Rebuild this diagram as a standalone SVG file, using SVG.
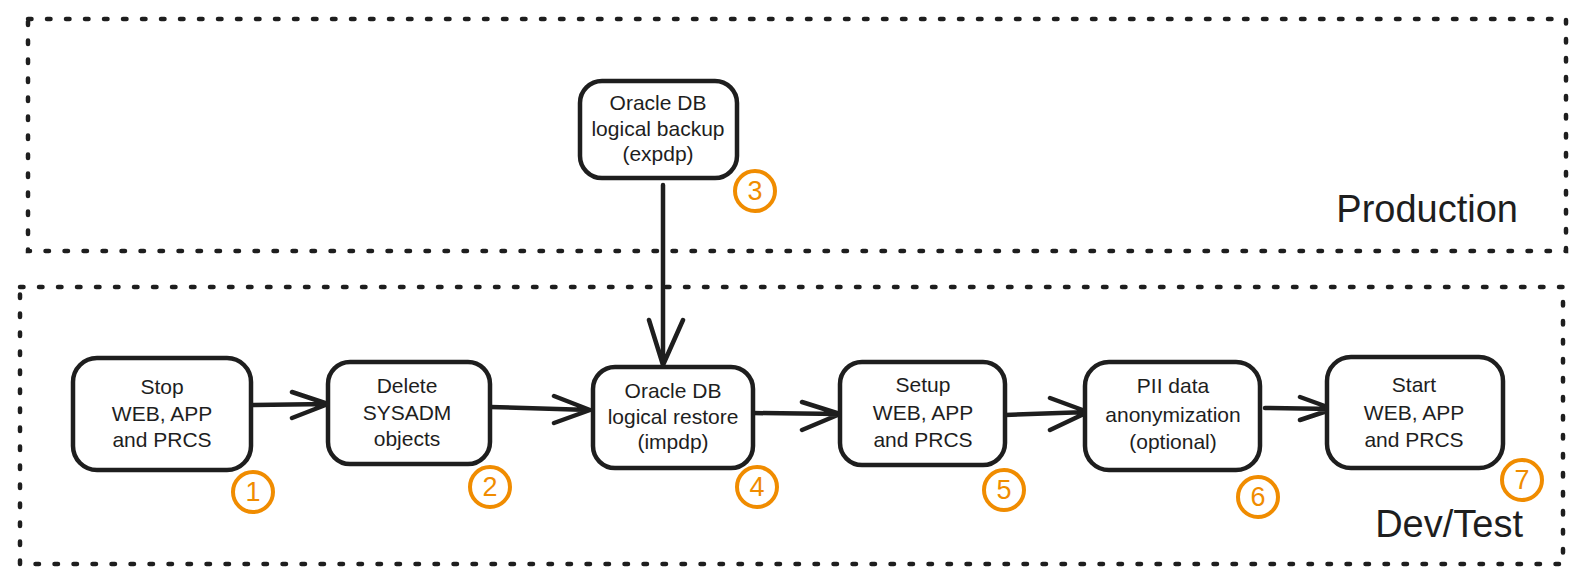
<svg xmlns="http://www.w3.org/2000/svg" width="1587" height="584" viewBox="0 0 1587 584">
<defs>
<style>
.zone{fill:none;stroke:#1e1e1e;stroke-width:4.5;stroke-dasharray:3.5 15.5;stroke-linecap:round}
.box{fill:#ffffff;stroke:#1e1e1e;stroke-width:4.5}
.lbl{font-family:"Liberation Sans","DejaVu Sans",sans-serif;font-size:21px;fill:#1e1e1e;text-anchor:middle}
.title{font-family:"Liberation Sans","DejaVu Sans",sans-serif;font-size:38px;fill:#1e1e1e;text-anchor:end}
.edge{fill:none;stroke:#1e1e1e;stroke-width:4.5;stroke-linecap:round;stroke-linejoin:round}
.badge{fill:none;stroke:#f08c00;stroke-width:4}
.num{font-family:"Liberation Sans","DejaVu Sans",sans-serif;font-size:27px;fill:#f08c00;text-anchor:middle}
</style>
</defs>
<rect width="1587" height="584" fill="#ffffff"/>
<g id="production">
<rect class="zone" x="28" y="19" width="1538" height="232"/>
<text class="title" x="1518" y="222">Production</text>
</g>
<g id="devtest">
<rect class="zone" x="20" y="287" width="1543" height="277"/>
<text class="title" x="1523" y="537">Dev/Test</text>
</g>
<g id="connectors">
<path class="edge" d="M663 185 L663 365 M649 320 L663 365 L683 320"/>
<path class="edge" d="M251 405 L328 404 M292 392 L328 404 L292 418"/>
<path class="edge" d="M490 407 L590 410 M554 396 L590 410 L554 423"/>
<path class="edge" d="M753 413 L840 414 M802 402 L840 414 L802 430"/>
<path class="edge" d="M1005 415 L1088 412 M1050 398 L1088 412 L1050 430"/>
<path class="edge" d="M1265 408 L1333 409 M1300 397 L1333 409 L1300 420"/>
</g>
<g id="node1">
<rect class="box" x="73" y="358" width="178" height="112" rx="24"/>
<text class="lbl" x="162" y="394">Stop</text>
<text class="lbl" x="162" y="421">WEB, APP</text>
<text class="lbl" x="162" y="447">and PRCS</text>
<circle class="badge" cx="253" cy="492" r="20"/>
<text class="num" x="253" y="501">1</text>
</g>
<g id="node2">
<rect class="box" x="328" y="362" width="162" height="102" rx="22"/>
<text class="lbl" x="407" y="393">Delete</text>
<text class="lbl" x="407" y="420">SYSADM</text>
<text class="lbl" x="407" y="446">objects</text>
<circle class="badge" cx="490" cy="487" r="20"/>
<text class="num" x="490" y="496">2</text>
</g>
<g id="node3">
<rect class="box" x="580" y="81" width="157" height="97" rx="22"/>
<text class="lbl" x="658" y="110">Oracle DB</text>
<text class="lbl" x="658" y="136">logical backup</text>
<text class="lbl" x="658" y="161">(expdp)</text>
<circle class="badge" cx="755" cy="191" r="20"/>
<text class="num" x="755" y="200">3</text>
</g>
<g id="node4">
<rect class="box" x="593" y="367" width="160" height="101" rx="22"/>
<text class="lbl" x="673" y="398">Oracle DB</text>
<text class="lbl" x="673" y="424">logical restore</text>
<text class="lbl" x="673" y="449">(impdp)</text>
<circle class="badge" cx="757" cy="487" r="20"/>
<text class="num" x="757" y="496">4</text>
</g>
<g id="node5">
<rect class="box" x="840" y="362" width="165" height="103" rx="22"/>
<text class="lbl" x="923" y="392">Setup</text>
<text class="lbl" x="923" y="420">WEB, APP</text>
<text class="lbl" x="923" y="447">and PRCS</text>
<circle class="badge" cx="1004" cy="490" r="20"/>
<text class="num" x="1004" y="499">5</text>
</g>
<g id="node6">
<rect class="box" x="1085" y="362" width="175" height="108" rx="24"/>
<text class="lbl" x="1173" y="393">PII data</text>
<text class="lbl" x="1173" y="422">anonymization</text>
<text class="lbl" x="1173" y="449">(optional)</text>
<circle class="badge" cx="1258" cy="497" r="20"/>
<text class="num" x="1258" y="506">6</text>
</g>
<g id="node7">
<rect class="box" x="1327" y="357" width="176" height="111" rx="24"/>
<text class="lbl" x="1414" y="392">Start</text>
<text class="lbl" x="1414" y="420">WEB, APP</text>
<text class="lbl" x="1414" y="447">and PRCS</text>
<circle class="badge" cx="1522" cy="480" r="20"/>
<text class="num" x="1522" y="489">7</text>
</g>
</svg>
